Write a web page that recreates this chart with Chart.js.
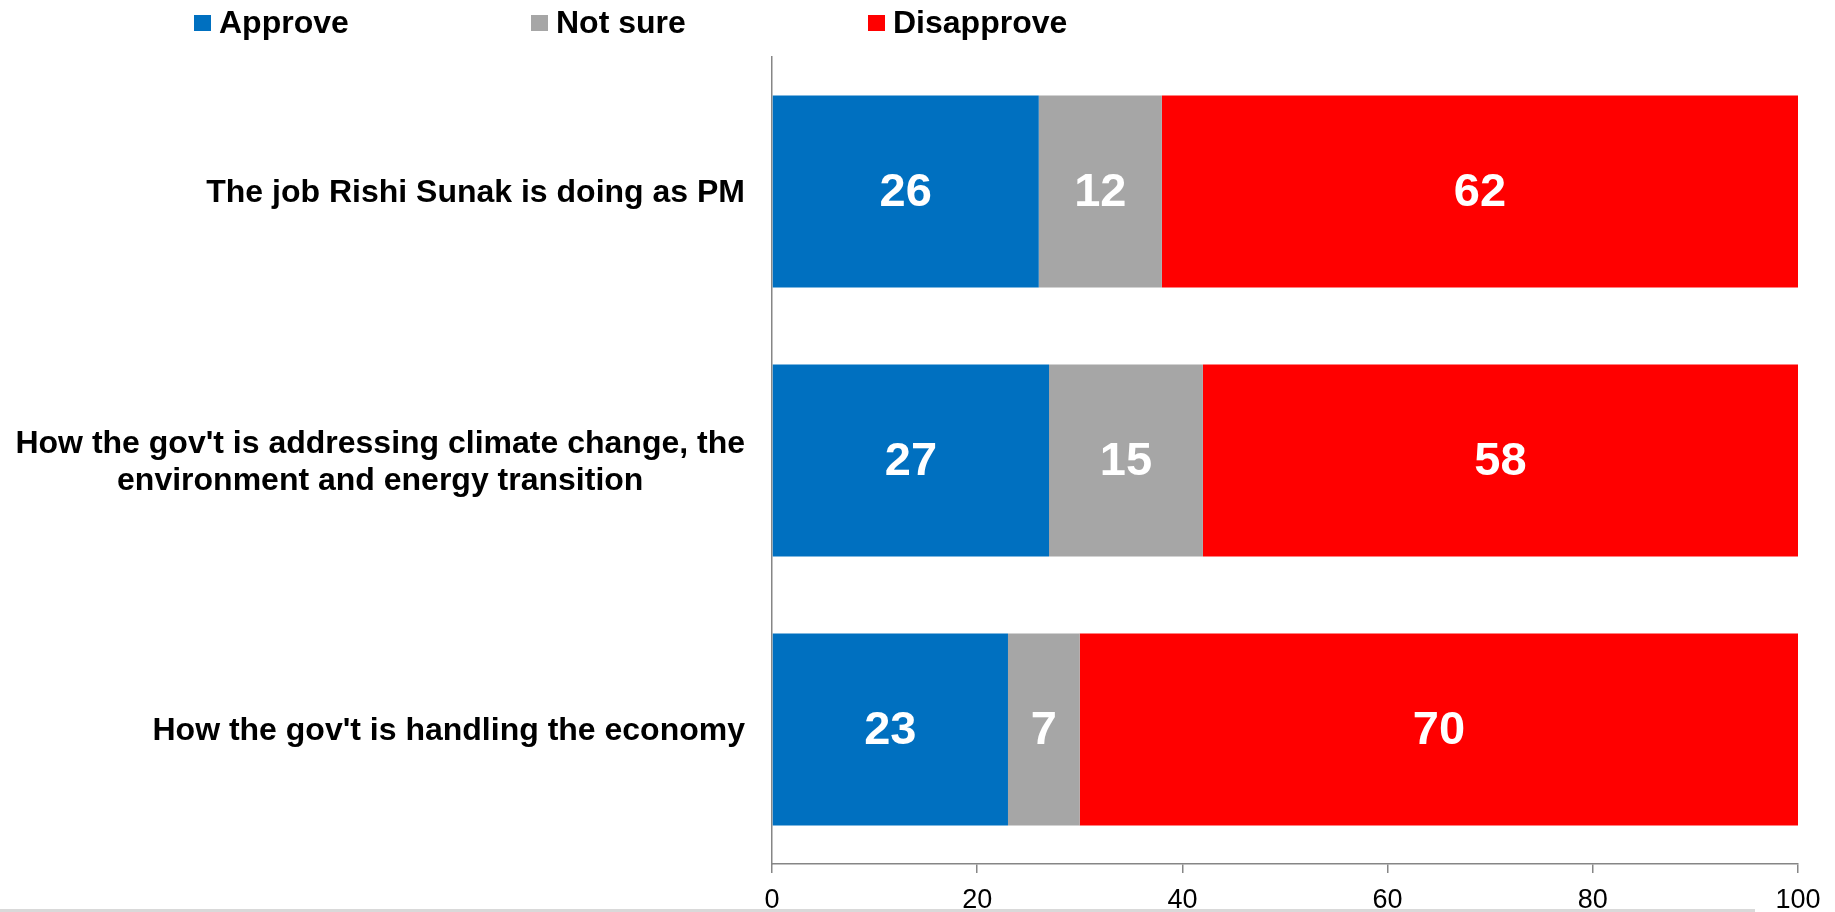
<!DOCTYPE html>
<html>
<head>
<meta charset="utf-8">
<script src="https://cdn.jsdelivr.net/npm/chart.js@4.4.1/dist/chart.umd.min.js"></script>
<style>
  html, body { margin: 0; padding: 0; background: #fff; }
  #wrap { width: 1835px; height: 912px; }
</style>
</head>
<body>
<div id="wrap"><canvas id="pollChart" width="1835" height="912"></canvas></div>
<script>
// Poll data
const categories = [
  "The job Rishi Sunak is doing as PM",
  ["How the gov't is addressing climate change, the", "environment and energy transition"],
  "How the gov't is handling the economy"
];
const seriesNames = ["Approve", "Not sure", "Disapprove"];
const approveValues = [26, 27, 23];
const notSureValues = [12, 15, 7];
const disapproveValues = [62, 58, 70];
const xTickValues = [0, 20, 40, 60, 80, 100];

const FONT = '"Liberation Sans", Arial, Helvetica, sans-serif';
const colors = ["#0070C0", "#A6A6A6", "#FF0000"];
const axisGray = "#868686";

// draws legend, category labels, value labels and the footer rule
const overlayPlugin = {
  id: "overlay",
  afterDraw(chart) {
    const ctx = chart.ctx;
    const yScale = chart.scales.y;
    ctx.save();

    // legend across the top
    ctx.font = "bold 32px " + FONT;
    ctx.textAlign = "left";
    ctx.textBaseline = "alphabetic";
    chart.data.datasets.forEach((ds, i) => {
      const x = 194 + i * 337;
      ctx.fillStyle = ds.backgroundColor;
      ctx.fillRect(x, 15, 17, 16);
      ctx.fillStyle = "#000";
      ctx.fillText(ds.label, x + 25, 33);
    });

    // category labels (right aligned block, lines centred in block)
    ctx.font = "bold 32px " + FONT;
    ctx.textAlign = "center";
    ctx.textBaseline = "middle";
    ctx.fillStyle = "#000";
    const rightEdge = chart.chartArea.left - 27;
    const lineH = 37;
    chart.data.labels.forEach((lab, i) => {
      const lines = Array.isArray(lab) ? lab : [lab];
      const widest = Math.max(...lines.map((l) => ctx.measureText(l).width));
      const cx = rightEdge - widest / 2;
      const cy = yScale.getPixelForValue(i) + 2;
      const top = cy - ((lines.length - 1) * lineH) / 2;
      lines.forEach((l, j) => ctx.fillText(l, cx, top + j * lineH));
    });

    // values inside segments
    ctx.font = "bold 47px " + FONT;
    ctx.fillStyle = "#fff";
    chart.data.datasets.forEach((ds, di) => {
      const meta = chart.getDatasetMeta(di);
      meta.data.forEach((el, i) => {
        const p = el.getProps(["x", "y", "base"], true);
        ctx.fillText(String(ds.data[i]), (p.x + p.base) / 2, p.y + 2);
      });
    });

    // light rule along the bottom
    ctx.strokeStyle = "#d9d9d9";
    ctx.lineWidth = 3;
    ctx.beginPath();
    ctx.moveTo(0, 910.5);
    ctx.lineTo(1755, 910.5);
    ctx.stroke();

    ctx.restore();
  }
};

const ctx = document.getElementById("pollChart").getContext("2d");
new Chart(ctx, {
  type: "bar",
  data: {
    labels: categories,
    datasets: [
      { label: seriesNames[0], data: approveValues, backgroundColor: colors[0] },
      { label: seriesNames[1], data: notSureValues, backgroundColor: colors[1] },
      { label: seriesNames[2], data: disapproveValues, backgroundColor: colors[2] }
    ]
  },
  options: {
    indexAxis: "y",
    responsive: false,
    animation: false,
    devicePixelRatio: 1,
    layout: { padding: { top: 57, right: 37, left: 0, bottom: 0 } },
    datasets: {
      bar: { barPercentage: 1, categoryPercentage: 0.714, borderWidth: 0 }
    },
    plugins: {
      legend: { display: false },
      tooltip: { enabled: false }
    },
    scales: {
      x: {
        stacked: true,
        min: 0,
        max: 100,
        afterBuildTicks: (scale) => {
          scale.ticks = xTickValues.map((v) => ({ value: v }));
        },
        afterFit: (scale) => { scale.height = 48; },
        grid: {
          drawOnChartArea: false,
          drawTicks: true,
          tickLength: 9,
          color: axisGray,
          lineWidth: 1.5
        },
        border: { display: true, color: axisGray, width: 1.5 },
        ticks: {
          color: "#000",
          padding: 11,
          maxRotation: 0,
          font: { family: FONT, size: 27 }
        }
      },
      y: {
        stacked: true,
        afterFit: (scale) => { scale.width = 772; },
        grid: { display: false },
        border: { display: true, color: axisGray, width: 1.5 },
        ticks: { display: false }
      }
    }
  },
  plugins: [overlayPlugin]
});
</script>
</body>
</html>
